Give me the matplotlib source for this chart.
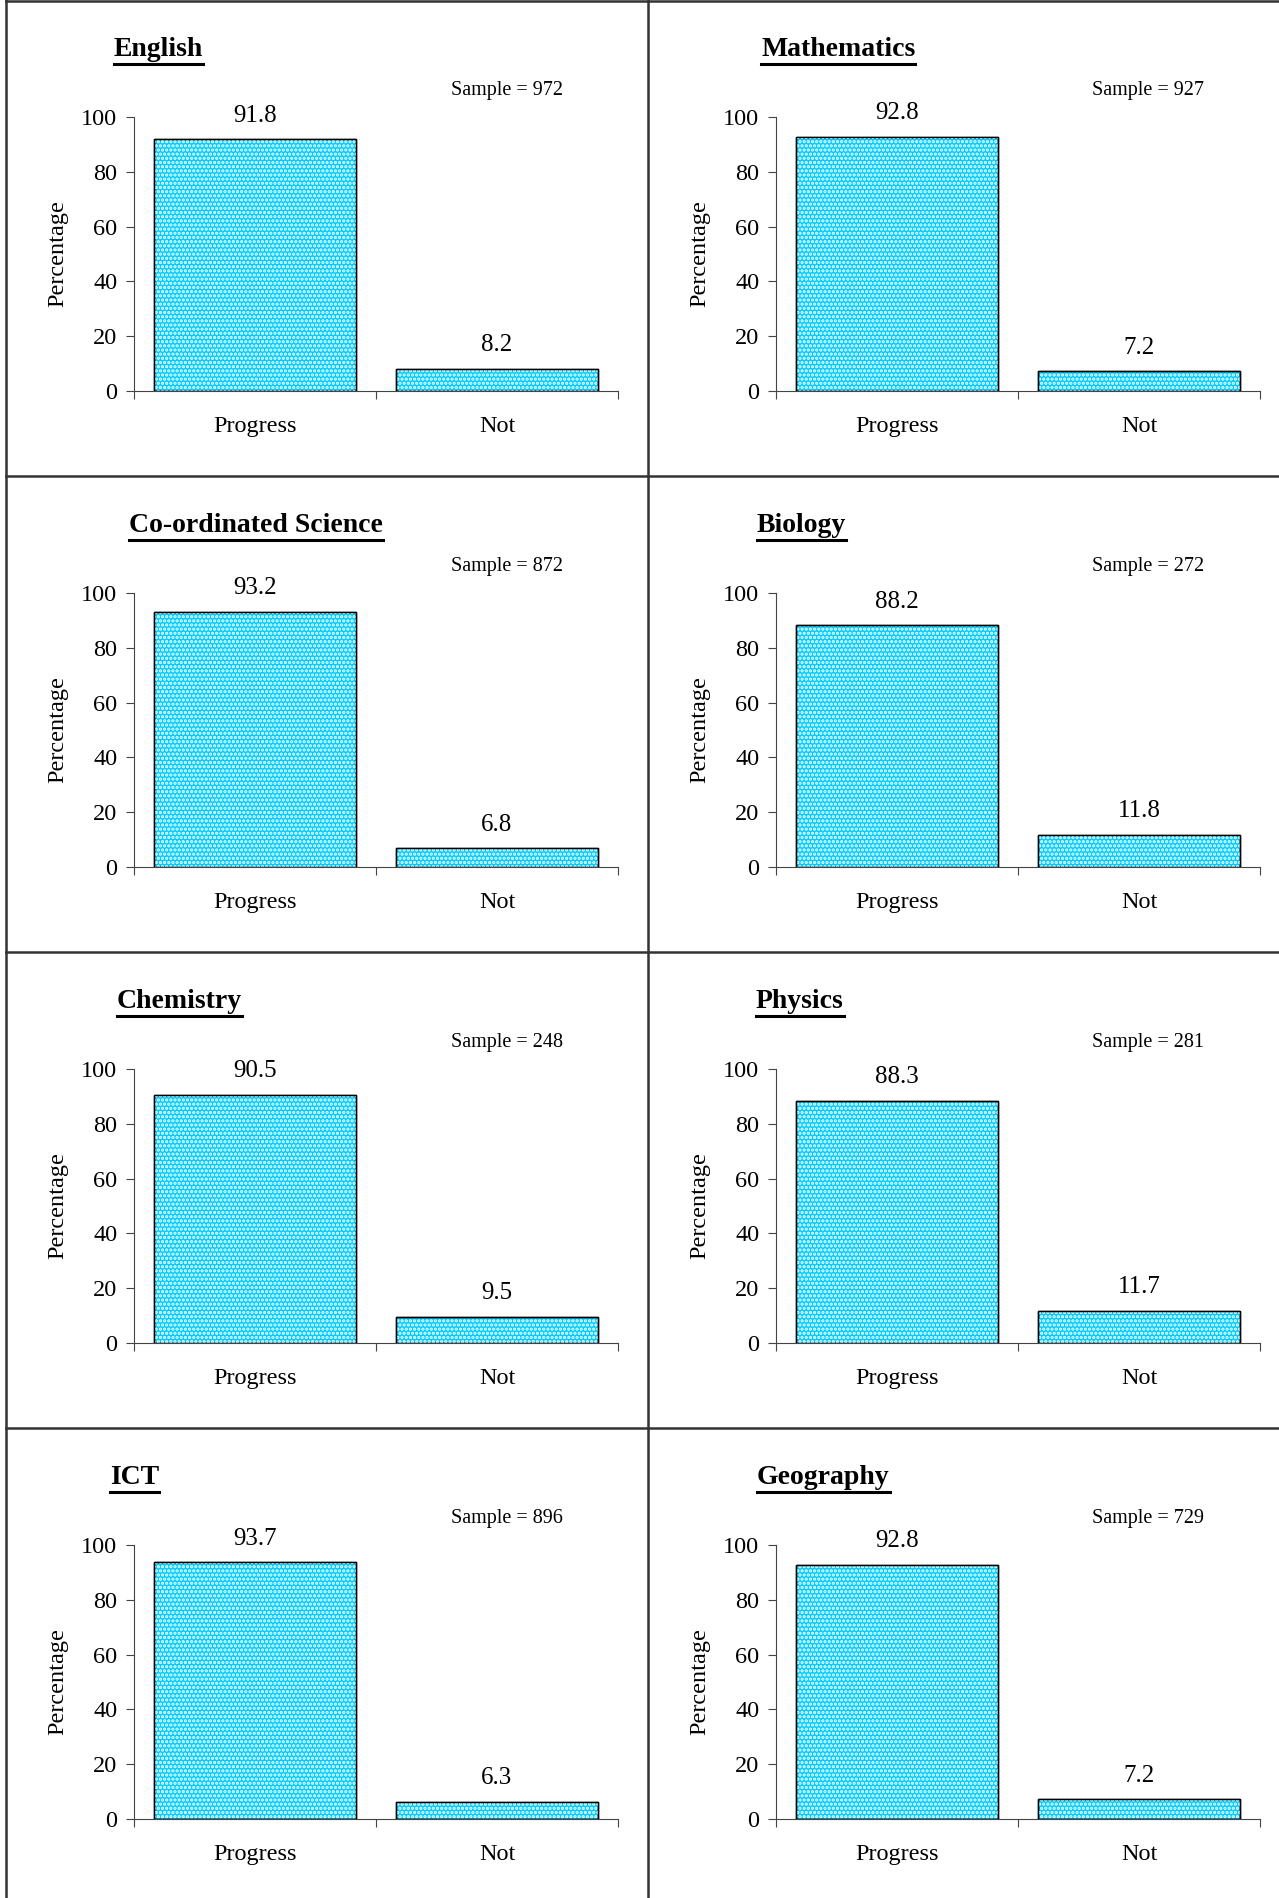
import numpy as np
import matplotlib
matplotlib.use("Agg")
import matplotlib.pyplot as plt
from matplotlib.lines import Line2D

# -------------------------------
# Progress figures per subject
subjects = ["English", "Mathematics", "Co-ordinated Science", "Biology",
            "Chemistry", "Physics", "ICT", "Geography"]
samples = [972, 927, 872, 272, 248, 281, 896, 729]
progress = [91.8, 92.8, 93.2, 88.2, 90.5, 88.3, 93.7, 92.8]
not_progress = [8.2, 7.2, 6.8, 11.8, 9.5, 11.7, 6.3, 7.2]
categories = ["Progress", "Not"]
yticks = [0, 20, 40, 60, 80, 100]

# title left edges (pixels) for the left and right column
title_left = [114, 761, 129, 757, 117, 756, 110, 757]

plt.rcParams['font.family'] = ['Liberation Serif', 'DejaVu Serif']
plt.rcParams['hatch.linewidth'] = 1.6

W, H = 1279, 1898
fig = plt.figure(figsize=(W / 100, H / 100), dpi=100)

row_h = 476
cyan = "#00CCFF"
fs = 17.5

for i, name in enumerate(subjects):
    row, col = divmod(i, 2)
    ax_left = 134 if col == 0 else 776
    ax_right = 618 if col == 0 else 1260
    ax_top = 117 + row * row_h
    ax_bot = 391 + row * row_h
    ax = fig.add_axes([ax_left / W, 1 - ax_bot / H,
                       (ax_right - ax_left) / W, (ax_bot - ax_top) / H])

    vals = [progress[i], not_progress[i]]
    x = np.arange(len(categories))
    ax.bar(x, vals, width=0.833, color=cyan, edgecolor="black", linewidth=1.0, zorder=2)
    ax.bar(x, vals, width=0.833, color="none", edgecolor="white", hatch="....",
           linewidth=0, zorder=3)
    ax.bar(x, vals, width=0.833, color="none", edgecolor="black", linewidth=1.0, zorder=4)

    for xi, v in zip(x, vals):
        ax.annotate(f"{v:.1f}", (xi, v), xytext=(0, 17), textcoords="offset points",
                    ha="center", va="center", fontsize=18)

    ax.set_xlim(-0.5, 1.5)
    ax.set_ylim(0, 100)
    ax.set_yticks(yticks)
    ax.set_xticks([-0.5, 0.5, 1.5], minor=False)
    ax.set_xticklabels([])
    ax.set_xticks(x, minor=True)
    ax.set_xticklabels(categories, minor=True, fontsize=fs)
    ax.tick_params(axis="x", which="minor", length=0, pad=18)
    ax.tick_params(axis="x", which="major", direction="out", length=6, color="#444444")
    ax.tick_params(axis="y", direction="out", length=6, color="#444444", labelsize=fs, pad=6)
    ax.spines["top"].set_visible(False)
    ax.spines["right"].set_visible(False)
    ax.spines["left"].set_color("#444444")
    ax.spines["bottom"].set_color("#444444")
    ax.set_ylabel("Percentage", fontsize=fs, labelpad=9)

    # subject title with underline
    ty = 50 + row * row_h
    t = fig.text(title_left[i] / W, 1 - ty / H, name, fontsize=20, fontweight="bold",
                 ha="left", va="center")
    t._underline = True
    # sample size
    sx = 507 if col == 0 else 1148
    sy = 90 + row * row_h
    fig.text(sx / W, 1 - sy / H, f"Sample = {samples[i]}", fontsize=14.5,
             ha="center", va="center")

# underline the titles once text sizes are known
fig.canvas.draw()
renderer = fig.canvas.get_renderer()
for t in fig.texts:
    if getattr(t, "_underline", False):
        bb = t.get_window_extent(renderer)
        yline = (bb.y0 - 1) / H
        fig.add_artist(Line2D([bb.x0 / W, bb.x1 / W], [yline, yline],
                              transform=fig.transFigure, color="black", linewidth=2.2))

# cell grid
grid_kw = dict(transform=fig.transFigure, color="#333333", linewidth=1.8)
fig.add_artist(Line2D([6 / W, 6 / W], [0, 1], **grid_kw))
fig.add_artist(Line2D([648 / W, 648 / W], [0, 1], **grid_kw))
fig.add_artist(Line2D([6 / W, 1], [1 - 1 / H, 1 - 1 / H], **grid_kw))
for r in range(1, 4):
    yy = 1 - (476 * r) / H
    fig.add_artist(Line2D([6 / W, 1], [yy, yy], **grid_kw))

fig.savefig("out.png", dpi=100)
